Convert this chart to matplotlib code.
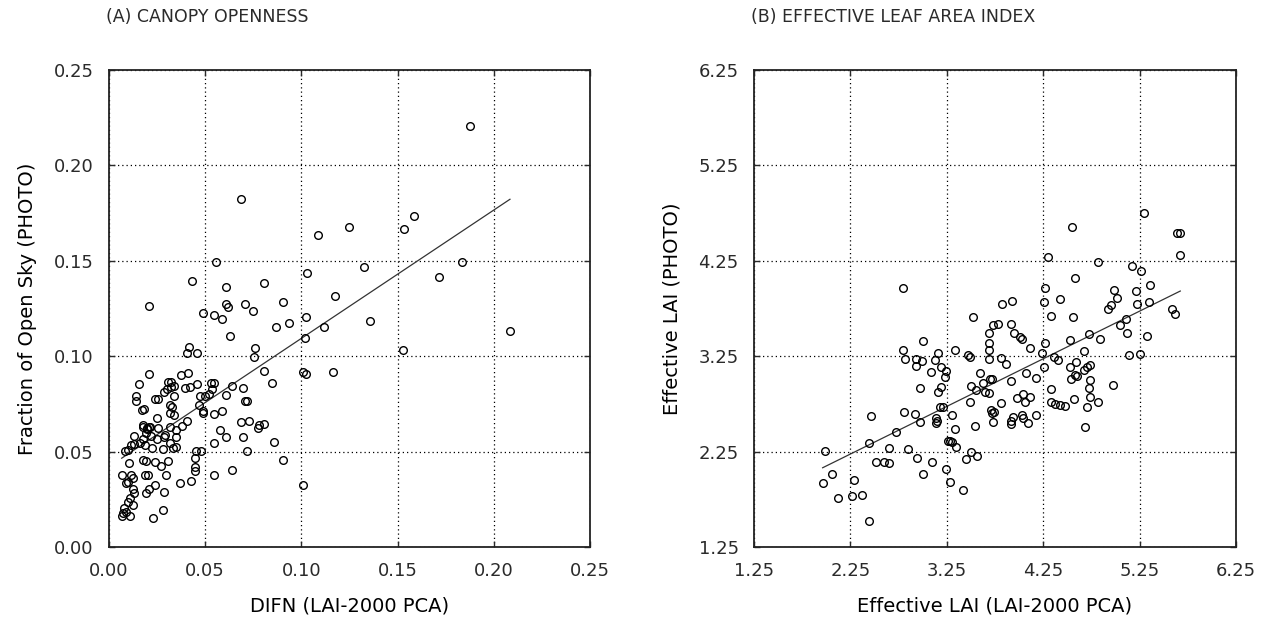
import numpy as np
import matplotlib
matplotlib.use('Agg')
import matplotlib.pyplot as plt

# (A) canopy openness: DIFN (LAI-2000) vs fraction of open sky (photo)
difn = [0.0686, 0.0556, 0.0430, 0.0608, 0.0807, 0.1027, 0.0208, 0.0606, 0.0617, 0.0709,
        0.0906, 0.0490, 0.0548, 0.0589, 0.0747, 0.1024, 0.0937, 0.0868, 0.0629, 0.1019,
        0.0418, 0.0407, 0.0455, 0.0759, 0.0755, 0.0806, 0.0847, 0.1010, 0.1024, 0.0208,
        0.0158, 0.0140, 0.0140, 0.0170, 0.0184, 0.0239, 0.0256, 0.0288, 0.0308, 0.0322,
        0.0303, 0.0320, 0.0339, 0.0338, 0.0372, 0.0409, 0.0395, 0.0421, 0.0459, 0.0317,
        0.0326, 0.0317, 0.0338, 0.0473, 0.0499, 0.0521, 0.0537, 0.0546, 0.0528, 0.0469,
        0.0487, 0.0490, 0.0608, 0.0641, 0.0695, 0.0707, 0.0719, 0.0587, 0.0547, 0.0178,
        0.0196, 0.0209, 0.0175, 0.0199, 0.0213, 0.0192, 0.0248, 0.0256, 0.0286, 0.0178,
        0.0216, 0.0317, 0.0378, 0.0407, 0.0348, 0.0348, 0.0130, 0.0248, 0.0291, 0.0161,
        0.0187, 0.0114, 0.0130, 0.0083, 0.0100, 0.0222, 0.0279, 0.0317, 0.0334, 0.0348,
        0.0452, 0.0477, 0.0546, 0.0577, 0.0606, 0.0695, 0.0684, 0.0729, 0.0776, 0.0781,
        0.0807, 0.0859, 0.0719, 0.0906, 0.0106, 0.0175, 0.0192, 0.0239, 0.0269, 0.0308,
        0.0447, 0.0447, 0.0447, 0.0066, 0.0114, 0.0123, 0.0088, 0.0100, 0.0187, 0.0204,
        0.0296, 0.0239, 0.0192, 0.0209, 0.0288, 0.0369, 0.0426, 0.0548, 0.0638, 0.0123,
        0.0130, 0.0109, 0.0100, 0.0123, 0.0080, 0.0071, 0.0088, 0.0066, 0.0109, 0.0230,
        0.0279, 0.1876, 0.1585, 0.1535, 0.1246, 0.1088, 0.1836, 0.1327, 0.1717, 0.1176,
        0.1117, 0.1357, 0.1526, 0.2084, 0.1166, 0.1006]
open_sky = [0.1824, 0.1495, 0.1394, 0.1364, 0.1385, 0.1434, 0.1265, 0.1273, 0.1258, 0.1273,
            0.1286, 0.1225, 0.1216, 0.1195, 0.1235, 0.1204, 0.1176, 0.1155, 0.1106, 0.1094,
            0.1047, 0.1015, 0.1015, 0.1045, 0.0994, 0.0924, 0.0858, 0.0919, 0.0907, 0.0907,
            0.0854, 0.0793, 0.0765, 0.0718, 0.0723, 0.0776, 0.0776, 0.0814, 0.0863, 0.0863,
            0.0826, 0.0837, 0.0844, 0.0791, 0.0901, 0.0914, 0.0832, 0.0837, 0.0854, 0.0744,
            0.0732, 0.0704, 0.0692, 0.0791, 0.0791, 0.0802, 0.0826, 0.0861, 0.0861, 0.0744,
            0.0713, 0.0704, 0.0797, 0.0844, 0.0835, 0.0765, 0.0765, 0.0714, 0.0697, 0.0630,
            0.0622, 0.0630, 0.0639, 0.0617, 0.0627, 0.0596, 0.0675, 0.0622, 0.0578, 0.0564,
            0.0582, 0.0630, 0.0634, 0.0662, 0.0613, 0.0575, 0.0582, 0.0564, 0.0587, 0.0547,
            0.0535, 0.0535, 0.0540, 0.0505, 0.0508, 0.0517, 0.0515, 0.0547, 0.0517, 0.0526,
            0.0505, 0.0505, 0.0544, 0.0613, 0.0578, 0.0575, 0.0657, 0.0662, 0.0622, 0.0639,
            0.0645, 0.0552, 0.0503, 0.0456, 0.0439, 0.0456, 0.0452, 0.0447, 0.0426, 0.0452,
            0.0465, 0.0421, 0.0398, 0.0377, 0.0377, 0.0363, 0.0337, 0.0342, 0.0377, 0.0377,
            0.0377, 0.0325, 0.0285, 0.0302, 0.0287, 0.0337, 0.0346, 0.0377, 0.0404, 0.0304,
            0.0285, 0.0255, 0.0237, 0.0220, 0.0203, 0.0180, 0.0185, 0.0162, 0.0162, 0.0150,
            0.0194, 0.2207, 0.1735, 0.1665, 0.1676, 0.1635, 0.1495, 0.1466, 0.1414, 0.1315,
            0.1155, 0.1184, 0.1032, 0.1134, 0.0915, 0.0325]
fit_a = (0.6725, 0.0421)  # slope, intercept

# (B) effective LAI: LAI-2000 vs photo
lai_pca = [2.797, 3.004, 2.797, 2.815, 2.929, 2.994, 2.926, 3.126, 3.154, 3.195,
           3.240, 3.229, 3.091, 2.970, 3.185, 3.160, 2.808, 2.918, 2.970, 3.177,
           3.212, 3.136, 3.150, 3.143, 2.459, 2.718, 2.445, 1.986, 2.652, 2.843,
           2.936, 2.514, 2.597, 2.649, 3.098, 3.004, 3.240, 3.281, 2.055, 1.962,
           2.286, 2.117, 2.269, 2.366, 2.442, 3.263, 5.292, 4.548, 5.641, 5.672,
           5.664, 4.300, 4.818, 5.174, 5.260, 4.576, 4.266, 5.361, 4.984, 5.019,
           5.215, 3.823, 3.927, 4.258, 4.428, 4.957, 4.922, 5.222, 5.343, 5.585,
           5.613, 3.523, 3.730, 3.782, 3.920, 4.335, 4.559, 5.043, 5.105, 3.688,
           3.688, 3.688, 3.688, 3.944, 4.006, 4.030, 5.123, 5.326, 4.532, 4.725,
           4.836, 4.117, 4.266, 4.670, 3.333, 3.470, 3.488, 4.241, 5.141, 5.252,
           3.810, 3.869, 4.359, 4.404, 4.587, 4.525, 4.535, 4.576, 4.600, 4.670,
           4.704, 4.732, 4.258, 3.592, 4.069, 4.180, 3.912, 3.626, 3.696, 3.720,
           3.496, 3.551, 3.644, 3.688, 4.335, 4.732, 4.725, 4.739, 4.704, 4.818,
           4.974, 4.041, 4.117, 3.979, 4.066, 3.815, 3.488, 4.335, 4.369, 4.428,
           4.473, 4.569, 3.713, 3.737, 3.724, 3.937, 3.920, 3.913, 4.034, 4.041,
           4.093, 4.180, 3.730, 3.309, 3.540, 3.333, 4.688, 3.281, 3.309, 3.350,
           3.496, 3.454, 3.564, 3.413]
lai_photo = [3.968, 3.412, 3.315, 3.218, 3.218, 3.200, 3.147, 3.210, 3.280, 3.140,
             3.098, 3.035, 3.088, 2.914, 2.930, 2.878, 2.668, 2.641, 2.557, 2.714,
             2.714, 2.599, 2.574, 2.547, 2.626, 2.452, 2.343, 2.259, 2.285, 2.277,
             2.186, 2.144, 2.144, 2.134, 2.138, 2.015, 2.068, 1.935, 2.015, 1.924,
             1.952, 1.760, 1.785, 1.792, 1.523, 2.361, 4.754, 4.607, 4.538, 4.538,
             4.311, 4.293, 4.234, 4.195, 4.146, 4.073, 3.962, 3.996, 3.944, 3.863,
             3.937, 3.794, 3.832, 3.815, 3.846, 3.787, 3.742, 3.794, 3.815, 3.742,
             3.689, 3.664, 3.577, 3.588, 3.588, 3.675, 3.664, 3.577, 3.637, 3.490,
             3.385, 3.315, 3.218, 3.490, 3.454, 3.430, 3.490, 3.462, 3.420, 3.479,
             3.430, 3.339, 3.385, 3.308, 3.315, 3.263, 3.238, 3.287, 3.263, 3.270,
             3.228, 3.165, 3.245, 3.210, 3.192, 3.140, 3.011, 3.053, 3.042, 3.105,
             3.140, 3.158, 3.140, 3.070, 3.077, 3.025, 2.993, 2.972, 3.011, 3.011,
             2.938, 2.896, 2.878, 2.867, 2.906, 3.000, 2.914, 2.826, 2.721, 2.773,
             2.948, 2.854, 2.826, 2.809, 2.773, 2.756, 2.773, 2.773, 2.749, 2.738,
             2.728, 2.798, 2.686, 2.662, 2.651, 2.616, 2.574, 2.539, 2.634, 2.599,
             2.547, 2.634, 2.563, 2.634, 2.518, 2.484, 2.505, 2.364, 2.354, 2.295,
             2.249, 2.169, 2.204, 1.847]
fit_b = (0.4993, 1.101)

ticks_a = [0.00, 0.05, 0.10, 0.15, 0.20, 0.25]
ticks_b = [1.25, 2.25, 3.25, 4.25, 5.25, 6.25]

plt.rcParams['font.family'] = ['DejaVu Sans']
plt.rcParams['text.color'] = '#2a2a2a'
plt.rcParams['xtick.color'] = '#2a2a2a'
plt.rcParams['ytick.color'] = '#2a2a2a'

W, H = 1263, 624
fig = plt.figure(figsize=(W / 100, H / 100), dpi=100)
ax_a = fig.add_axes([109 / W, 77 / H, 481 / W, 477 / H])
ax_b = fig.add_axes([754 / W, 77 / H, 482 / W, 477 / H])


def panel(ax, x, y, fit, ticks, xlabel, ylabel):
    ax.plot(x, y, 'o', ms=5.5, mfc='none', mec='black', mew=1.0, zorder=3)
    xs = np.array([min(x), max(x)])
    ax.plot(xs, fit[0] * xs + fit[1], color='#333333', lw=0.9, zorder=2)
    ax.set_xlim(ticks[0], ticks[-1])
    ax.set_ylim(ticks[0], ticks[-1])
    ax.set_xticks(ticks)
    ax.set_yticks(ticks)
    ax.set_xticklabels(['%.2f' % t for t in ticks])
    ax.set_yticklabels(['%.2f' % t for t in ticks])
    ax.grid(True, color='black', linestyle=(0, (1, 2.4)), linewidth=0.9)
    ax.tick_params(direction='in', length=4, width=1, top=True, right=True,
                   labelsize=13, pad=11)
    for s in ax.spines.values():
        s.set_linewidth(1.3)
        s.set_color('#222222')
    ax.set_xlabel(xlabel, fontsize=14)
    ax.set_ylabel(ylabel, fontsize=14)
    ax.xaxis.set_label_coords(0.5, -0.103)
    ax.yaxis.set_label_coords(-0.150, 0.5)


panel(ax_a, difn, open_sky, fit_a, ticks_a, 'DIFN (LAI-2000 PCA)',
      'Fraction of Open Sky (PHOTO)')
panel(ax_b, lai_pca, lai_photo, fit_b, ticks_b, 'Effective LAI (LAI-2000 PCA)',
      'Effective LAI (PHOTO)')

fig.text(106 / W, 1 - 17 / H, '(A) CANOPY OPENNESS', ha='left', va='center', fontsize=12.5)
fig.text(751 / W, 1 - 17 / H, '(B) EFFECTIVE LEAF AREA INDEX', ha='left', va='center',
         fontsize=12.5)

fig.savefig('out.png', dpi=100)
